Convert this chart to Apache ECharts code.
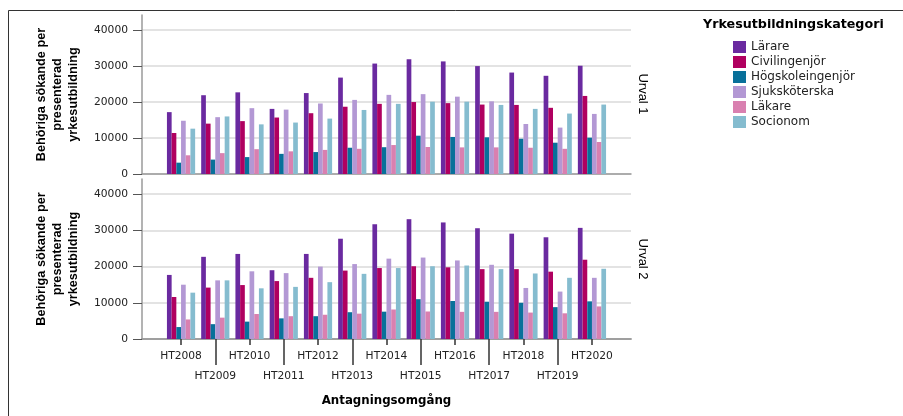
<!DOCTYPE html>
<html><head><meta charset="utf-8">
<script src="https://cdn.jsdelivr.net/npm/echarts@6/dist/echarts.min.js"></script>
<style>html,body{margin:0;padding:0;background:#fff}#c{width:903px;height:416px}</style>
</head><body><div id="c"></div>
<script>
const categories = ['HT2008','HT2009','HT2010','HT2011','HT2012','HT2013','HT2014','HT2015','HT2016','HT2017','HT2018','HT2019','HT2020'];
const seriesNames = ['Lärare','Civilingenjör','Högskoleingenjör','Sjuksköterska','Läkare','Socionom'];
const panelNames = ['Urval 1','Urval 2'];
const yTickValues = [0,10000,20000,30000,40000];

// Urval 1
const larare1 = [17200,21900,22700,18100,22500,26800,30700,31900,31300,30000,28200,27300,30100];
const civ1    = [11400,14000,14700,15700,16900,18700,19500,20000,19700,19300,19200,18400,21700];
const hog1    = [3150,4000,4700,5600,6100,7300,7450,10650,10300,10200,9800,8700,10100];
const sjuk1   = [14800,15800,18300,17900,19600,20600,22000,22200,21500,20200,13900,12900,16700];
const lak1    = [5200,5800,6900,6300,6700,7000,8050,7500,7400,7400,7300,7000,8900];
const soc1    = [12600,16000,13800,14300,15400,17800,19500,20100,20100,19200,18100,16800,19300];
// Urval 2
const larare2 = [17700,22700,23500,19000,23500,27700,31700,33100,32200,30600,29100,28100,30700];
const civ2    = [11600,14200,14900,16000,16900,18900,19600,20100,19800,19300,19300,18600,21900];
const hog2    = [3300,4100,4800,5700,6300,7400,7550,11000,10500,10300,10000,8800,10400];
const sjuk2   = [15000,16200,18700,18200,20000,20700,22200,22500,21700,20500,14100,13100,16900];
const lak2    = [5400,5900,6900,6300,6700,7000,8150,7600,7500,7500,7300,7100,9000];
const soc2    = [12800,16200,14000,14400,15700,18000,19600,20100,20300,19300,18100,16900,19400];

const colors = ['#6a2aa0','#b00060','#08709a','#b398d4','#d980b0','#85bccf'];
const panels = [[larare1,civ1,hog1,sjuk1,lak1,soc1],[larare2,civ2,hog2,sjuk2,lak2,soc2]];

const evenIdx = categories.map((c,i)=>i).filter(i=>i%2===0);
const oddIdx = categories.map((c,i)=>i).filter(i=>i%2===1);
const XMIN = -1.14, XMAX = categories.length - 1 + 1.14;
const FONT = 'DejaVu Sans';

const series = [];
panels.forEach((arrs, p) => {
  arrs.forEach((arr, s) => {
    series.push({
      type: 'bar', name: seriesNames[s], xAxisIndex: p, yAxisIndex: p,
      barWidth: 4.7, barGap: '0%',
      itemStyle: {color: colors[s]},
      data: arr.map((v, i) => [i, v])
    });
  });
});

const yTitle = 'Behöriga sökande per\npresenterad\nyrkesutbildning';
function yAxis(g) {
  return {
    gridIndex: g, type: 'value', position: 'left', min: 0, max: 44200, interval: 10000,
    axisLine: {show: true, onZero: false, lineStyle: {color: '#9a9a9a', width: 1.5}},
    axisTick: {show: true, length: 9, customValues: yTickValues, lineStyle: {color: '#555', width: 1}},
    axisLabel: {customValues: yTickValues, margin: 14, formatter: v => String(v),
                fontFamily: FONT, fontSize: 10.7, color: '#222'},
    splitLine: {show: true, lineStyle: {color: ['#dadada','#dadada','#dadada','#dadada','#dadada','rgba(0,0,0,0)'], width: 1.5}},
    name: yTitle, nameLocation: 'middle', nameGap: 61,
    nameTextStyle: {fontFamily: 'Liberation Sans', fontWeight: 'bold', fontSize: 12.7, lineHeight: 16, color: '#000'}
  };
}

const option = {
  animation: false,
  backgroundColor: '#fff',
  title: {
    text: 'Yrkesutbildningskategori', left: 703, top: 18, padding: 0,
    textStyle: {fontFamily: FONT, fontWeight: 'bold', fontSize: 12.7, color: '#000'}
  },
  legend: {
    data: seriesNames, orient: 'vertical', left: 733, top: 41, padding: 0,
    itemWidth: 13, itemHeight: 12, itemGap: 3, itemTextGap: 4, icon: 'rect',
    textStyle: {fontFamily: FONT, fontSize: 12, color: '#222'}
  },
  grid: [
    {left: 142, top: 15, width: 489, height: 159},
    {left: 142, top: 179, width: 489, height: 160}
  ],
  xAxis: [
    {gridIndex: 0, type: 'value', position: 'bottom', min: XMIN, max: XMAX,
     axisLine: {show: true, onZero: false, lineStyle: {color: '#9a9a9a', width: 1.5}},
     axisTick: {show: false}, axisLabel: {show: false}, splitLine: {show: false}},
    {gridIndex: 1, type: 'value', position: 'bottom', min: XMIN, max: XMAX,
     axisLine: {show: true, onZero: false, lineStyle: {color: '#9a9a9a', width: 1.5}},
     axisTick: {show: true, customValues: evenIdx, length: 6, lineStyle: {color: '#333', width: 1.5}},
     axisLabel: {show: true, customValues: evenIdx, margin: 12, formatter: v => categories[Math.round(v)],
                 fontFamily: FONT, fontSize: 10.7, color: '#222'},
     splitLine: {show: false},
     name: 'Antagningsomgång', nameLocation: 'middle', nameGap: 56,
     nameTextStyle: {fontFamily: FONT, fontWeight: 'bold', fontSize: 11.8, color: '#000'}},
    {gridIndex: 1, type: 'value', position: 'bottom', offset: 0, min: XMIN, max: XMAX,
     axisLine: {show: true, onZero: false, lineStyle: {color: '#9a9a9a', width: 1.5}},
     axisTick: {show: true, customValues: oddIdx, length: 26, lineStyle: {color: '#333', width: 1.5}},
     axisLabel: {show: true, customValues: oddIdx, margin: 32, formatter: v => categories[Math.round(v)],
                 fontFamily: FONT, fontSize: 10.7, color: '#222'},
     splitLine: {show: false}}
  ],
  yAxis: [yAxis(0), yAxis(1)],
  graphic: [
    {type: 'line', shape: {x1: 8.5, y1: 10.5, x2: 903, y2: 10.5}, style: {stroke: '#333', lineWidth: 1}},
    {type: 'line', shape: {x1: 8.5, y1: 10.5, x2: 8.5, y2: 416}, style: {stroke: '#333', lineWidth: 1}},
    {type: 'text', x: 643, y: 94, rotation: -Math.PI/2,
     style: {text: panelNames[0], fontFamily: 'Liberation Sans', fontSize: 13, fill: '#000', align: 'center', verticalAlign: 'middle'}},
    {type: 'text', x: 643, y: 259, rotation: -Math.PI/2,
     style: {text: panelNames[1], fontFamily: 'Liberation Sans', fontSize: 13, fill: '#000', align: 'center', verticalAlign: 'middle'}}
  ],
  series: series
};
const chart = echarts.init(document.getElementById('c'));
chart.setOption(option);
</script></body></html>
